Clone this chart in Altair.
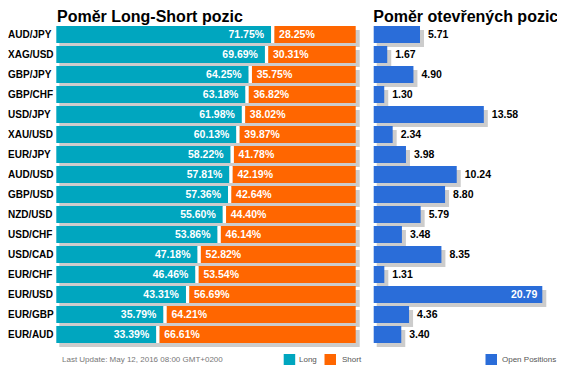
import altair as alt
import pandas as pd

pairs = ["AUD/JPY", "XAG/USD", "GBP/JPY", "GBP/CHF", "USD/JPY", "XAU/USD", "EUR/JPY",
         "AUD/USD", "GBP/USD", "NZD/USD", "USD/CHF", "USD/CAD", "EUR/CHF", "EUR/USD",
         "EUR/GBP", "EUR/AUD"]
long_pct = [71.75, 69.69, 64.25, 63.18, 61.98, 60.13, 58.22, 57.81, 57.36, 55.60,
            53.86, 47.18, 46.46, 43.31, 35.79, 33.39]
short_pct = [28.25, 30.31, 35.75, 36.82, 38.02, 39.87, 41.78, 42.19, 42.64, 44.40,
             46.14, 52.82, 53.54, 56.69, 64.21, 66.61]
open_pos = [5.71, 1.67, 4.90, 1.30, 13.58, 2.34, 3.98, 10.24, 8.80, 5.79,
            3.48, 8.35, 1.31, 20.79, 4.36, 3.40]

title_left = "Poměr Long-Short pozic"
title_right = "Poměr otevřených pozic"
update_text = "Last Update: May 12, 2016 08:00 GMT+0200"
legend_labels = ["Long", "Short", "Open Positions"]

TEAL = "#00A6BF"
ORANGE = "#FF6600"
BLUE = "#2A6DD9"
SHADOW = "#CCCCCC"
FONT = "Liberation Sans, Arial, sans-serif"

df = pd.DataFrame({"pair": pairs, "long": long_pct, "short": short_pct, "op": open_pos})

base = alt.Chart(df).transform_calculate(
    zero="0",
    end="datum.long + datum.short",
    longLabel="format(datum.long, '.2f') + '%'",
    shortLabel="format(datum.short, '.2f') + '%'",
    opLabel="format(datum.op, '.2f')",
)

ys = alt.Scale(domain=pairs, range=[16.5, 336.5], paddingInner=0.15, paddingOuter=0.075)
Y = alt.Y("pair:N", scale=ys, axis=None)
xl = alt.Scale(domain=[0, 100], range=[48.3, 347.7], nice=False, zero=False)
xr = alt.Scale(domain=[0, 21], range=[365.7, 536.0], nice=False, zero=False)

shadow_l = base.mark_bar(color=SHADOW, xOffset=3, x2Offset=4, yOffset=4).encode(
    x=alt.X("zero:Q", scale=xl, axis=None), x2="end:Q", y=Y)
long_bar = base.mark_bar(color=TEAL).encode(
    x=alt.X("zero:Q", scale=xl, axis=None), x2="long:Q", y=Y)
gap = base.mark_bar(color="white", x2Offset=3.3).encode(
    x=alt.X("long:Q", scale=xl, axis=None), x2="long:Q", y=Y)
short_bar = base.mark_bar(color=ORANGE, xOffset=3.3).encode(
    x=alt.X("long:Q", scale=xl, axis=None), x2="end:Q", y=Y)
long_text = base.mark_text(align="right", baseline="middle", dx=-7, color="white",
                           fontWeight="bold", fontSize=10.5, font=FONT).encode(
    x=alt.X("long:Q", scale=xl, axis=None), y=Y, text="longLabel:N")
short_text = base.mark_text(align="left", baseline="middle", dx=8, color="white",
                            fontWeight="bold", fontSize=10.5, font=FONT).encode(
    x=alt.X("long:Q", scale=xl, axis=None), y=Y, text="shortLabel:N")

shadow_r = base.mark_bar(color=SHADOW, xOffset=3, x2Offset=4, yOffset=4).encode(
    x=alt.X("zero:Q", scale=xr, axis=None), x2="op:Q", y=Y)
op_bar = base.mark_bar(color=BLUE).encode(
    x=alt.X("zero:Q", scale=xr, axis=None), x2="op:Q", y=Y)
op_text_out = base.transform_filter("datum.op < 15").mark_text(
    align="left", baseline="middle", dx=8, color="black", fontWeight="bold",
    fontSize=10.5, font=FONT).encode(
    x=alt.X("op:Q", scale=xr, axis=None), y=Y, text="opLabel:N")
op_text_in = base.transform_filter("datum.op >= 15").mark_text(
    align="right", baseline="middle", dx=-5, color="white", fontWeight="bold",
    fontSize=10.5, font=FONT).encode(
    x=alt.X("op:Q", scale=xr, axis=None), y=Y, text="opLabel:N")

pair_text = base.mark_text(align="left", baseline="middle", color="black",
                           fontWeight="bold", fontSize=10, font=FONT).encode(
    x=alt.value(0), y=Y, text="pair:N")


def label(txt, x, y, size, weight="normal", color="black", baseline="middle"):
    return alt.Chart(pd.DataFrame({"t": [txt]})).mark_text(
        align="left", baseline=baseline, fontSize=size, fontWeight=weight,
        color=color, font=FONT).encode(x=alt.value(x), y=alt.value(y), text="t:N")


def square(x, y, color):
    return alt.Chart(pd.DataFrame({"k": [0]})).mark_rect(color=color).encode(
        x=alt.value(x), x2=alt.value(x + 11.5), y=alt.value(y), y2=alt.value(y + 11))


t1 = label(title_left, 49, 14, 16, "bold", baseline="alphabetic")
t2 = label(title_right, 365.3, 14, 16, "bold", baseline="alphabetic")
upd = label(update_text, 54, 352, 8, color="#777777")
sq1 = square(275.7, 346, TEAL)
sq2 = square(316.5, 346, ORANGE)
sq3 = square(477.5, 346, BLUE)
l1 = label(legend_labels[0], 291, 352, 8, color="#555555")
l2 = label(legend_labels[1], 334, 352, 8, color="#555555")
l3 = label(legend_labels[2], 494, 352, 8, color="#555555")

chart = alt.layer(
    shadow_l, long_bar, gap, short_bar, long_text, short_text,
    shadow_r, op_bar, op_text_out, op_text_in, pair_text,
    t1, t2, upd, sq1, sq2, sq3, l1, l2, l3,
).resolve_scale(x="independent").properties(
    width=549, height=358, padding=0,
    autosize=alt.AutoSizeParams(type="none"),
).configure_view(stroke=None)

chart.save("out.html", embed_options={"renderer": "svg", "actions": False})
